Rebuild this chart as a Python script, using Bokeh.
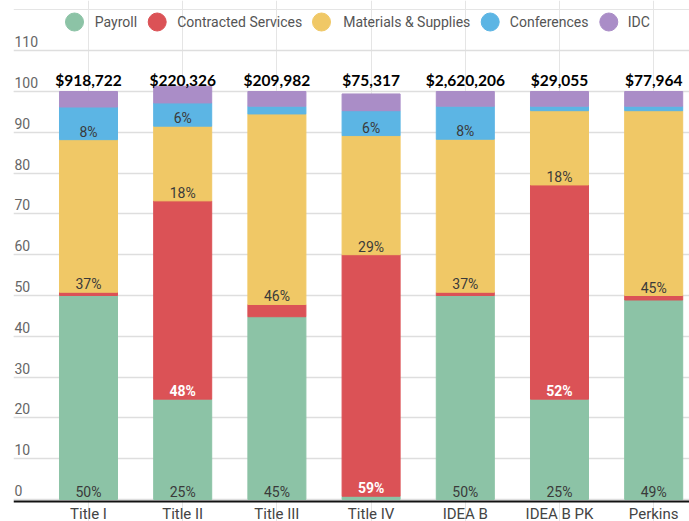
from bokeh.plotting import figure
from bokeh.models import ColumnDataSource, Grid, FixedTicker, Span
from bokeh.core.properties import value
from bokeh.embed import file_html
from bokeh.resources import INLINE

# ---------------- data ----------------
programs = ["Title I", "Title II", "Title III", "Title IV", "IDEA B", "IDEA B PK", "Perkins"]
totals = ["$918,722", "$220,326", "$209,982", "$75,317", "$2,620,206", "$29,055", "$77,964"]
series = ["Payroll", "Contracted Services", "Materials & Supplies", "Conferences", "IDC"]

payroll = [50.0, 24.6, 44.8, 0.8, 50.0, 24.6, 48.9]
contracted = [0.8, 48.6, 3.0, 59.2, 0.8, 52.5, 1.1]
materials = [37.4, 18.3, 46.7, 29.2, 37.5, 18.2, 45.3]
conferences = [8.0, 5.7, 1.9, 6.1, 8.1, 1.1, 1.1]
idc = [3.8, 4.1, 3.6, 4.1, 3.6, 3.6, 3.6]

payroll_labels = ["50%", "25%", "45%", "", "50%", "25%", "49%"]
contracted_labels = ["", "48%", "", "59%", "", "52%", ""]
materials_labels = ["37%", "18%", "46%", "29%", "37%", "18%", "45%"]
conferences_labels = ["8%", "6%", "", "6%", "8%", "", ""]
idc_labels = ["", "", "", "", "", "", ""]

y_ticks = [0, 10, 20, 30, 40, 50, 60, 70, 80, 90, 100, 110]

# ---------------- style / layout ----------------
colors = ["#8cc3a6", "#db5256", "#f0c866", "#5cb5e4", "#aa8dc7"]
label_colors = ["#3a3a3a", "#ffffff", "#3a3a3a", "#3a3a3a", "#3a3a3a"]
label_weights = ["normal", "bold", "normal", "normal", "normal"]

W, H = 689, 521
LEFT = 13                    # frame starts 13px inside the canvas
PX_X = 94.2                  # px per category
XS = (LEFT - 88) / PX_X      # x-range start (first bar centre at 88px)
XE = XS + (W - LEFT) / PX_X
PX_Y = 4.08                  # px per percentage unit
YE = 499 / PX_Y              # y-range end (zero line at 499px)
YS = YE - H / PX_Y


def px2x(px):
    return XS + (px - LEFT) / PX_X


def py2y(py):
    return YE - py / PX_Y


p = figure(width=W, height=H, output_backend="svg", toolbar_location=None,
           x_range=(XS, XE), y_range=(YS, YE),
           x_axis_location=None, y_axis_location=None,
           min_border_left=LEFT, min_border_right=0,
           min_border_top=0, min_border_bottom=0)
p.outline_line_color = None
p.background_fill_color = "white"

# gridlines
grid = Grid(dimension=1, ticker=FixedTicker(ticks=y_ticks),
            grid_line_color="#dedede", grid_line_width=1.6)
p.add_layout(grid)

# stacked bars
xs = list(range(len(programs)))
keys = ["payroll", "contracted", "materials", "conferences", "idc"]
src = ColumnDataSource(dict(x=xs, payroll=payroll, contracted=contracted,
                            materials=materials, conferences=conferences, idc=idc))
p.vbar_stack(keys, x="x", width=0.616, color=colors, source=src)

# segment labels (just above each segment's base)
all_vals = [payroll, contracted, materials, conferences, idc]
all_labels = [payroll_labels, contracted_labels, materials_labels,
              conferences_labels, idc_labels]
bottom = [0.0] * len(programs)
for vals, labs, col, wt in zip(all_vals, all_labels, label_colors, label_weights):
    lx, ly, lt = [], [], []
    for j, (v, t) in enumerate(zip(vals, labs)):
        if t:
            lx.append(xs[j]); ly.append(bottom[j]); lt.append(t)
    if lt:
        p.text(x=lx, y=ly, text=lt, text_align="center", text_baseline="middle",
               y_offset=-8, text_font=value("Roboto"), text_font_size="14px",
               text_color=col, text_font_style=wt)
    bottom = [b + v for b, v in zip(bottom, vals)]

# totals above bars
p.text(x=xs, y=[py2y(79)] * len(xs), text=totals, text_align="center",
       text_baseline="middle", text_font=value("Lato"), text_font_size="15.5px",
       text_font_style="bold", text_color="#000000")

# y tick labels (inside plot, above gridlines)
p.text(x=[XS] * len(y_ticks), y=y_ticks, text=[str(t) for t in y_ticks],
       text_align="left", text_baseline="middle", x_offset=1, y_offset=-9,
       text_font=value("Roboto"), text_font_size="14px", text_color="#666666")

# x axis line
p.add_layout(Span(location=py2y(501), dimension="width", line_color="#111111",
                  line_width=2))

# category labels
p.text(x=xs, y=[py2y(513)] * len(xs), text=programs, text_align="center",
       text_baseline="middle", text_font=value("Roboto"), text_font_size="15px",
       text_color="#444444")

# legend
circle_px = [74, 156.7, 321, 489.7, 608.3]
text_px = [94.3, 176.7, 342.7, 509.3, 627.3]
ly = py2y(21.5)
p.scatter(x=[px2x(c) for c in circle_px], y=[ly] * 5, marker="circle", size=18,
          fill_color=colors, line_color=colors)
p.text(x=[px2x(t) for t in text_px], y=[ly] * 5, text=series, text_align="left",
       text_baseline="middle", text_font=value("Roboto"), text_font_size="14px",
       text_color="#555555")

open("out.html", "w").write(file_html(p, INLINE))
